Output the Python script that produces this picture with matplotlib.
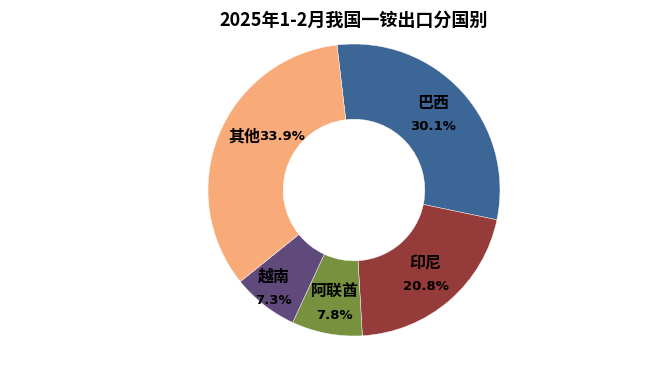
import numpy as np
import matplotlib
matplotlib.use("Agg")
from matplotlib import pyplot as plt

plt.rcParams['font.family'] = ['Noto Sans CJK SC', 'DejaVu Sans']

countries = ["巴西", "印尼", "阿联酋", "越南", "其他"]
shares = [30.1, 20.8, 7.8, 7.3, 33.9]
colors = ["#3C6696", "#953B3A", "#77913F", "#5F4A7B", "#F8AB79"]
title = "2025年1-2月我国一铵出口分国别"

# label placement (radius, angle tweak in degrees, one line or two)
lab_r = [0.75, 0.76, 0.79, 0.87, 0.745]
lab_da = [1.0, -0.6, 1.1, -1.2, -7.3]
one_line = [False, False, False, False, True]

fig = plt.figure(figsize=[6.59, 3.78], dpi=100)
ax = fig.add_axes([208/659, 42/378, 292/659, 292/378])
start = 96.7
wedges, _ = ax.pie(shares, colors=colors, startangle=start, counterclock=False,
                   radius=1.0, wedgeprops=dict(width=0.515, edgecolor="white", linewidth=0.3))
ax.set_xlim(-1, 1)
ax.set_ylim(-1, 1)
ax.set_aspect("equal")
ax.axis("off")

for w, name, val, r, da, one in zip(wedges, countries, shares, lab_r, lab_da, one_line):
    mid = np.deg2rad((w.theta1 + w.theta2) / 2 + da)
    x, y = r*np.cos(mid), r*np.sin(mid)
    if one:
        ax.text(x + 0.01, y, name, ha="right", va="center", fontsize=11.5, fontweight="bold")
        ax.text(x - 0.005, y, "%.1f%%" % val, ha="left", va="center", fontsize=9.5, fontweight="bold",
                family=["DejaVu Sans"])
    else:
        ax.text(x, y + 0.08, name, ha="center", va="center", fontsize=11.5, fontweight="bold")
        ax.text(x, y - 0.08, "%.1f%%" % val, ha="center", va="center", fontsize=9.5,
                fontweight="bold", family=["DejaVu Sans"])

fig.text(354/659, 1 - 20/378, title, ha="center", va="center", fontsize=13, fontweight="bold")
fig.savefig("out.png", dpi=100)
